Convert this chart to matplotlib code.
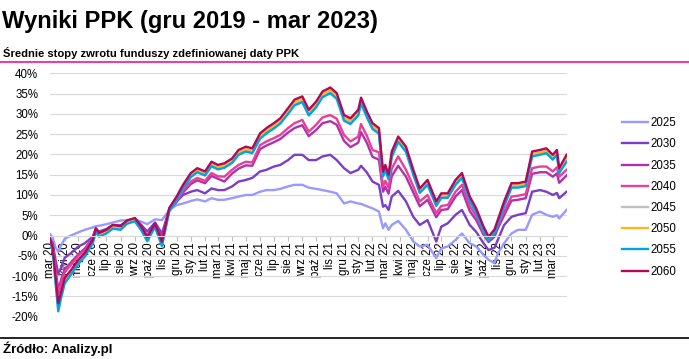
import matplotlib
matplotlib.use('Agg')
import matplotlib.pyplot as plt
import pandas as pd
from matplotlib.lines import Line2D

plt.rcParams['font.family'] = ['Liberation Sans', 'DejaVu Sans']

dates = pd.to_datetime([
    '2020-02-28', '2020-03-06', '2020-03-12', '2020-03-18', '2020-03-24',
    '2020-04-01', '2020-04-15', '2020-05-01', '2020-05-15', '2020-06-01',
    '2020-06-08', '2020-06-15', '2020-07-01', '2020-07-15', '2020-08-01',
    '2020-08-15', '2020-09-01', '2020-09-15', '2020-09-28', '2020-10-15',
    '2020-10-30', '2020-11-15', '2020-12-01', '2020-12-15', '2021-01-01',
    '2021-01-15', '2021-02-01', '2021-02-15', '2021-03-01', '2021-03-15',
    '2021-04-01', '2021-04-15', '2021-05-01', '2021-05-15', '2021-06-01',
    '2021-06-15', '2021-07-01', '2021-07-15', '2021-08-01', '2021-08-15',
    '2021-09-01', '2021-09-15', '2021-10-01', '2021-10-15', '2021-11-01',
    '2021-11-15', '2021-12-01', '2021-12-15', '2022-01-01', '2022-01-07',
    '2022-01-20', '2022-02-01', '2022-02-15', '2022-02-24', '2022-03-01',
    '2022-03-08', '2022-03-15', '2022-03-29', '2022-04-15', '2022-05-01',
    '2022-05-15', '2022-06-01', '2022-06-20', '2022-07-01', '2022-07-15',
    '2022-08-01', '2022-08-15', '2022-09-01', '2022-09-15', '2022-10-01',
    '2022-10-12', '2022-10-25', '2022-11-01', '2022-11-15', '2022-12-01',
    '2022-12-15', '2023-01-01', '2023-01-15', '2023-02-01', '2023-02-15',
    '2023-03-01', '2023-03-10', '2023-03-15', '2023-03-31',
])

# Average returns (%) per target-date fund
r2025 = [0.5, -0.5, -3.0, -4.0, -2.5, -0.8, 0.0, 0.8, 1.4, 2.0,
         2.3, 2.4, 2.8, 3.2, 3.7, 3.8, 4.0, 3.4, 2.8, 4.0,
         3.8, 6.3, 7.5, 7.9, 8.5, 8.9, 8.4, 9.2, 8.8, 8.8,
         9.2, 9.6, 10.0, 10.0, 10.8, 11.2, 11.2, 11.5, 12.1, 12.5,
         12.5, 11.8, 11.5, 11.2, 10.8, 10.4, 7.9, 8.4, 7.9, 7.8,
         7.2, 6.7, 5.9, 1.8, 3.0, 1.4, 2.6, 3.6, 1.4, -1.5,
         -2.7, -2.3, -5.6, -3.2, -2.7, -1.1, 0.5, -1.9, -2.7, -4.8,
         -6.0, -6.8, -4.5, -1.9, 0.5, 1.4, 1.4, 5.1, 5.9, 5.1,
         4.6, 5.0, 4.2, 6.3]
r2030 = [-0.5, -2.0, -6.0, -9.5, -8.0, -5.5, -4.3, -2.7, -1.9, -0.3,
         1.5, 1.0, 1.6, 2.6, 2.5, 3.6, 4.2, 2.6, 1.0, 3.2,
         0.5, 6.5, 8.4, 10.0, 10.8, 11.2, 10.4, 11.6, 11.2, 11.2,
         12.1, 13.3, 13.7, 14.2, 15.8, 16.2, 17.0, 17.4, 18.6, 19.9,
         19.9, 18.6, 18.6, 19.5, 19.9, 18.6, 16.6, 15.4, 16.2, 17.2,
         15.5, 13.3, 12.5, 7.1, 7.5, 6.3, 9.6, 11.0, 8.4, 4.6,
         2.6, 3.8, -1.5, 2.2, 3.0, 5.1, 6.3, 2.6, 0.9, -1.9,
         -3.6, -3.0, -1.1, 2.6, 4.6, 5.1, 5.5, 10.8, 11.2, 10.8,
         10.0, 10.5, 9.2, 10.8]
r2035 = [-0.4, -2.4, -8.0, -13.5, -11.0, -8.3, -6.6, -4.6, -3.2, -0.6,
         1.7, 0.7, 1.4, 2.5, 2.2, 3.5, 4.1, 2.1, 0.0, 2.9,
         -0.6, 6.3, 8.3, 10.6, 12.7, 13.6, 12.9, 14.7, 14.0, 13.3,
         15.3, 16.5, 17.3, 17.2, 21.3, 22.2, 23.0, 23.8, 25.4, 26.5,
         27.2, 24.5, 26.0, 27.7, 28.2, 27.3, 23.3, 21.8, 22.9, 25.5,
         22.8, 19.4, 18.7, 10.8, 12.0, 10.3, 14.6, 17.2, 14.5, 10.6,
         7.2, 8.8, 4.5, 6.3, 6.5, 9.6, 11.2, 6.0, 3.8, 0.2,
         -1.6, -0.3, 1.7, 5.0, 8.6, 8.8, 9.2, 15.2, 15.6, 15.6,
         14.5, 15.3, 13.0, 14.8]
r2040 = [-0.5, -2.6, -8.5, -14.5, -12.0, -9.0, -7.2, -5.0, -3.6, -0.8,
         1.6, 0.6, 1.3, 2.4, 2.1, 3.4, 4.0, 2.0, -0.2, 2.8,
         -1.0, 6.2, 8.6, 11.0, 13.3, 14.2, 13.5, 15.4, 14.6, 14.5,
         16.2, 17.4, 18.2, 18.0, 22.3, 23.2, 24.0, 24.8, 26.5, 27.7,
         28.5, 25.6, 27.3, 29.1, 29.7, 28.8, 24.8, 23.2, 24.4, 27.5,
         24.5, 21.1, 20.5, 12.0, 13.5, 11.8, 16.5, 19.5, 16.2, 12.1,
         8.4, 10.0, 5.5, 7.3, 7.5, 10.8, 12.5, 7.2, 4.8, 1.0,
         -1.0, 0.5, 2.5, 5.9, 9.6, 9.8, 10.2, 16.6, 17.0, 17.0,
         15.8, 16.8, 14.5, 16.2]
r2045 = [-0.7, -3.6, -11.0, -17.9, -15.0, -11.4, -9.3, -6.8, -5.0, -1.8,
         1.1, -0.1, 0.7, 1.9, 1.6, 3.1, 3.7, 1.5, -1.1, 2.3,
         -2.2, 6.1, 8.9, 11.8, 14.6, 15.8, 15.0, 17.3, 16.5, 16.9,
         18.1, 20.2, 21.0, 20.6, 24.2, 25.5, 26.7, 27.9, 30.4, 32.5,
         33.3, 30.0, 32.0, 34.5, 35.5, 34.1, 28.7, 27.9, 30.0, 33.0,
         29.5, 26.7, 25.5, 14.9, 16.5, 14.1, 19.8, 23.5, 21.0, 15.3,
         10.8, 12.8, 7.6, 9.6, 9.6, 12.8, 14.5, 8.8, 5.9, 1.4,
         -1.0, 0.8, 3.0, 7.5, 12.0, 12.0, 12.4, 19.8, 20.2, 20.6,
         19.0, 20.2, 15.7, 19.0]
r2050 = [-0.6, -3.3, -10.6, -17.4, -14.6, -11.0, -9.0, -6.5, -4.8, -1.5,
         1.4, 0.2, 1.0, 2.2, 1.9, 3.3, 3.9, 1.8, -0.8, 2.6,
         -1.9, 6.4, 9.2, 12.1, 14.9, 16.1, 15.3, 17.7, 16.9, 17.3,
         18.5, 20.5, 21.3, 20.9, 24.6, 25.9, 27.1, 28.3, 30.8, 32.9,
         33.7, 30.4, 32.4, 34.9, 35.9, 34.5, 29.1, 28.3, 30.4, 33.4,
         29.9, 27.1, 25.9, 15.3, 16.9, 14.5, 20.2, 23.9, 21.4, 15.7,
         11.1, 13.2, 7.9, 9.9, 9.9, 13.2, 14.9, 9.1, 6.2, 1.8,
         -0.7, 1.1, 3.4, 7.9, 12.4, 12.4, 12.8, 20.1, 20.5, 20.9,
         19.3, 20.5, 16.0, 19.3]
r2055 = [-0.8, -3.8, -11.5, -18.7, -15.5, -11.8, -9.6, -7.0, -5.2, -2.0,
         0.9, -0.3, 0.5, 1.7, 1.4, 2.9, 3.5, 1.3, -1.4, 2.1,
         -2.6, 6.0, 8.8, 11.6, 14.4, 15.6, 14.8, 17.1, 16.3, 16.7,
         17.9, 19.9, 20.7, 20.3, 23.9, 25.2, 26.4, 27.6, 30.0, 32.1,
         32.9, 29.6, 31.6, 34.1, 35.1, 33.7, 28.3, 27.5, 29.6, 32.6,
         29.1, 26.3, 25.1, 14.6, 16.2, 13.8, 19.4, 23.1, 20.6, 15.0,
         10.5, 12.5, 7.3, 9.3, 9.3, 12.5, 14.2, 8.5, 5.6, 1.2,
         -1.3, 0.5, 2.8, 7.3, 11.8, 11.8, 12.2, 19.5, 19.9, 20.3,
         18.7, 19.9, 15.4, 18.2]
r2060 = [-0.5, -3.0, -10.0, -16.7, -14.0, -10.5, -8.5, -6.0, -4.3, -1.1,
         1.8, 0.6, 1.4, 2.6, 2.3, 3.7, 4.3, 2.2, -0.4, 3.0,
         -1.5, 6.8, 9.6, 12.5, 15.4, 16.6, 15.8, 18.2, 17.4, 17.8,
         19.0, 21.1, 21.9, 21.5, 25.2, 26.5, 27.7, 28.9, 31.4, 33.5,
         34.3, 31.0, 33.0, 35.5, 36.5, 35.1, 29.7, 28.9, 31.0, 34.0,
         30.5, 27.7, 26.5, 15.8, 17.4, 15.0, 20.7, 24.4, 21.9, 16.2,
         11.6, 13.7, 8.4, 10.4, 10.4, 13.7, 15.4, 9.6, 6.7, 2.2,
         -0.3, 1.5, 3.8, 8.4, 12.9, 12.9, 13.3, 20.7, 21.1, 21.5,
         19.9, 21.1, 16.6, 19.9]

fund_names = ['2025', '2030', '2035', '2040', '2045', '2050', '2055', '2060']
fund_colors = ['#9999ff', '#7a3ec8', '#b030b0', '#ea3f96',
               '#bfbfbf', '#ffb81c', '#00a2e8', '#b0085a']

df = pd.DataFrame({'2025': r2025, '2030': r2030, '2035': r2035, '2040': r2040,
                   '2045': r2045, '2050': r2050, '2055': r2055, '2060': r2060},
                  index=dates)

months_pl = ['sty', 'lut', 'mar', 'kwi', 'maj', 'cze',
             'lip', 'sie', 'wrz', 'paź', 'lis', 'gru']
tick_dates = pd.date_range('2020-03-01', '2023-03-01', freq='MS')
tick_labels = [f"{months_pl[d.month - 1]} {d.year % 100:02d}" for d in tick_dates]

fig = plt.figure(figsize=(6.89, 3.59), dpi=100)
ax = fig.add_axes([50 / 689, 1 - 316.6 / 359, 517 / 689, 243.3 / 359])

for name, col in zip(fund_names, fund_colors):
    ax.plot(df.index, df[name], color=col, lw=1.7, label=name)

# spine has to be moved first: it resets the ticks
for s in ['top', 'right', 'left']:
    ax.spines[s].set_visible(False)
ax.spines['bottom'].set_position(('data', 0))
ax.spines['bottom'].set_color('#d9d9d9')
ax.spines['bottom'].set_linewidth(0.8)

ax.set_ylim(-20, 40)
ax.set_yticks(range(-20, 41, 5))
ax.set_yticklabels([f"{v}%" for v in range(-20, 41, 5)])
ax.set_xlim(pd.Timestamp('2020-02-29'), pd.Timestamp('2023-04-01'))
ax.set_xticks(tick_dates)
ax.set_xticklabels(tick_labels)

ax.grid(axis='y', color='#d9d9d9', lw=0.8)
ax.set_axisbelow(True)
ax.tick_params(axis='y', length=0, pad=8.5, labelsize=8.3)
ax.tick_params(axis='x', length=3.5, width=0.8, color='#bfbfbf', pad=1.5,
               labelsize=8.3, labelrotation=90)
for lbl in ax.get_xticklabels():
    lbl.set_ha('center')
    lbl.set_va('top')

leg = ax.legend(loc='center left', bbox_to_anchor=(1.106, 0.49), frameon=False,
                fontsize=8.3, handlelength=2.3, handletextpad=0.2,
                labelspacing=0.8, borderaxespad=0, borderpad=0)

fig.text(2 / 689, 1 - 28.3 / 359, 'Wyniki PPK (gru 2019 - mar 2023)',
         fontsize=17.1, fontweight='bold', va='baseline')
fig.text(3 / 689, 1 - 56.7 / 359, 'Średnie stopy zwrotu funduszy zdefiniowanej daty PPK',
         fontsize=8.1, fontweight='bold', va='baseline')
fig.text(3 / 689, 1 - 353 / 359, 'Źródło: Analizy.pl',
         fontsize=9.5, fontweight='bold', va='baseline')

fig.add_artist(Line2D([0, 1], [1 - 62 / 359] * 2, color='#e8439b', lw=1.5,
                      transform=fig.transFigure))
fig.add_artist(Line2D([0, 1], [1 - 338 / 359] * 2, color='black', lw=1.2,
                      transform=fig.transFigure))

fig.savefig('out.png', dpi=100)
